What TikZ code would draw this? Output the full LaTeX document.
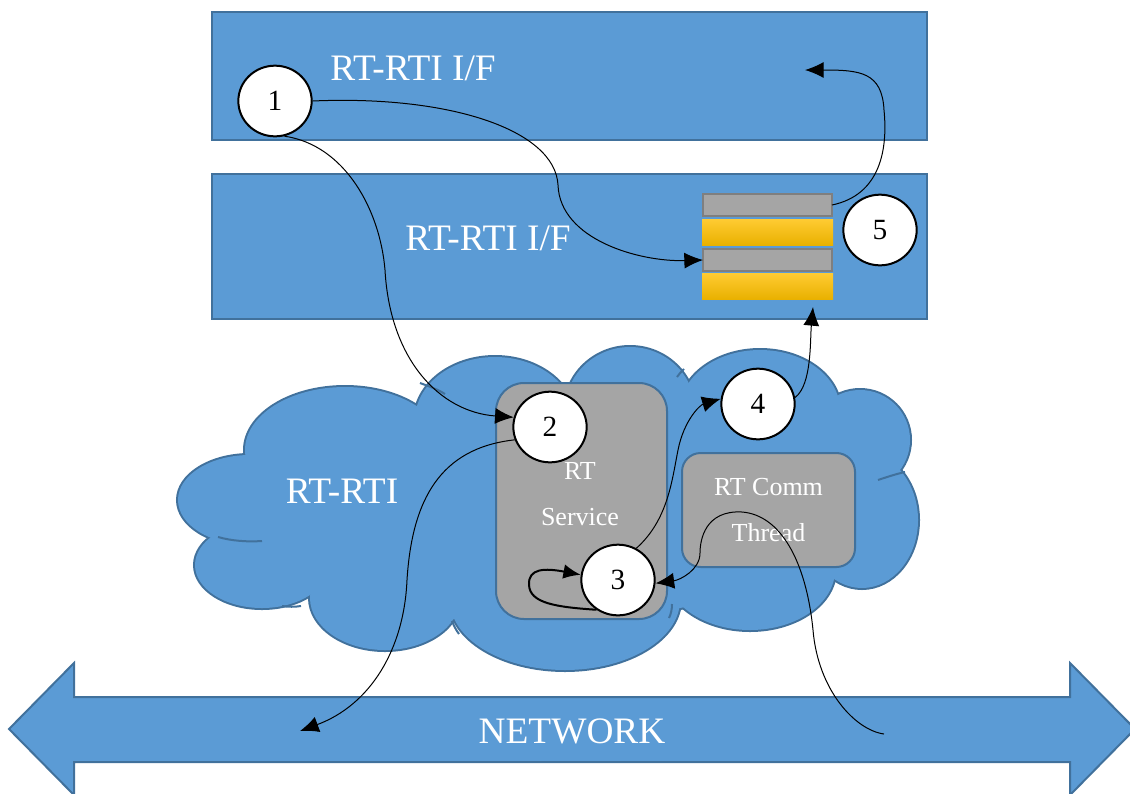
\documentclass[tikz,border=0pt]{standalone}
\usepackage{fontspec}
\setmainfont{Liberation Serif}
\usetikzlibrary{arrows.meta,positioning,shapes.geometric}
\definecolor{boxblue}{HTML}{5B9BD5}
\definecolor{edgeblue}{HTML}{41719C}
\definecolor{svcgray}{HTML}{A5A5A5}
\definecolor{bufgray}{HTML}{7F7F7F}
\definecolor{bufhi}{HTML}{FFCB33}
\definecolor{buflo}{HTML}{E9B100}

\begin{document}
\begin{tikzpicture}[x=0.75pt,y=-0.75pt,
   panel/.style={draw=edgeblue,fill=boxblue,line width=1.5pt,minimum width=536.25pt,inner sep=0pt},
   bigtext/.style={text=white,font=\fontsize{28}{30}\selectfont},
   smalltext/.style={text=white,align=center,font=\fontsize{19.5}{34.5}\selectfont},
   task/.style={draw=edgeblue,fill=svcgray,line width=1.5pt,inner sep=0pt},
   lobeedge/.style={draw=edgeblue,fill=boxblue,line width=3pt},
   lobefill/.style={fill=boxblue},
   cloudline/.style={draw=edgeblue,line width=1.5pt},
   slot/.style={draw=bufgray,fill=svcgray,line width=1.5pt,minimum width=96.75pt,minimum height=16.5pt,inner sep=0pt,outer sep=0pt},
   fillbar/.style={top color=bufhi,bottom color=buflo,minimum width=98.25pt,minimum height=19.5pt,inner sep=0pt,outer sep=0pt},
   num/.style={ellipse,draw=black,fill=white,line width=1.5pt,minimum width=55pt,minimum height=53pt,inner sep=0pt,font=\fontsize{22}{26}\selectfont},
   flow/.style={-{Latex[length=14pt,width=12pt]},line width=0.75pt},
   loopflow/.style={-{Latex[length=13pt,width=11pt]},line width=1.5pt}]
   \useasboundingbox (0,0) rectangle (1130,793);

   % interface panels
   \node[panel,minimum height=96pt] (ifTop) at (569.5,76) {};
   \node[panel,minimum height=108.75pt] (ifMid) at (569.5,246.5) {};
   \node[bigtext] (ifTopLbl) at (413,68) {RT-RTI I/F};
   \node[bigtext] (ifMidLbl) at (488,238) {RT-RTI I/F};

   % cloud
   \foreach \cx/\cy/\rx/\ry in {250/500/72/45, 345/450/100/63, 262/565/67/43, 385/598/75/52,
        565/600/115/70, 750/570/85/60, 862/520/56/68, 860/440/50/50, 760/410/80/60,
        630/410/65/63, 495/420/80/63, 560/505/270/115}
     \path[lobeedge] (\cx,\cy) ellipse [x radius=\rx, y radius=\ry];
   \foreach \cx/\cy/\rx/\ry in {250/500/72/45, 345/450/100/63, 262/565/67/43, 385/598/75/52,
        565/600/115/70, 750/570/85/60, 862/520/56/68, 860/440/50/50, 760/410/80/60,
        630/410/65/63, 495/420/80/63, 560/505/270/115}
     \path[lobefill] (\cx,\cy) ellipse [x radius=\rx, y radius=\ry];
   \draw[cloudline] (218,537) .. controls (232,541) and (248,542) .. (262,541);
   \draw[cloudline] (282,606) .. controls (288,607) and (295,607) .. (301,606);
   \draw[cloudline] (452,621) .. controls (454,626) and (456,630) .. (459,634);
   \draw[cloudline] (420,383) .. controls (428,386) and (437,389) .. (445,394);
   \draw[cloudline] (677,377) .. controls (679,374) and (681,372) .. (684,369);
   \draw[cloudline] (672,604) .. controls (672,609) and (671,614) .. (669,618);
   \draw[cloudline] (878,480) .. controls (887,477) and (896,474) .. (905,472);
   \node[bigtext] (cloudLbl) at (342,491) {RT-RTI};

   % network
   \draw[draw=edgeblue,fill=boxblue,line width=1.5pt] (9,729) -- (74,663) -- (74,697) -- (1070,697)
      -- (1070,663) -- (1135,729) -- (1070,795) -- (1070,762) -- (74,762) -- (74,795) -- cycle;
   \node[bigtext] (netLbl) at (572,731) {NETWORK};

   % tasks
   \node[task,minimum width=128.25pt,minimum height=177pt,rounded corners=21pt] (svc) at (581.5,501) {};
   \node[smalltext] (svcLbl) at (580,494) {RT\\Service};
   \node[task,smalltext,minimum width=129.75pt,minimum height=85.5pt,rounded corners=14pt] (thr) at (768.5,510) {RT Comm\\Thread};

   % buffer
   \node[slot] (g1) at (767.5,205) {};
   \node[fillbar,below=2.25pt of g1] (y1) {};
   \node[slot,below=3pt of y1] (g2) {};
   \node[fillbar,below=1.5pt of g2] (y2) {};

   \node[num] (c1) at (275,101) {1};
   \node[num] (c2) at (550,427) {2};
   \node[num] (c3) at (618,580) {3};
   \node[num] (c4) at (758,404) {4};
   \node[num] (c5) at (880,230) {5};

   \coordinate (topEnd) at (805,70);
   \coordinate (bufEnd) at (813,307);
   \coordinate (netL) at (300,731);
   \coordinate (netR) at (884,734);

   \draw[flow] (c1.east) .. controls (450,95) and (555,130) .. (558,185)
      .. controls (560,240) and (640,262) .. (g2.west);
   \draw[flow] (c1.-75) .. controls (345,145) and (380,210) .. (385,270)
      .. controls (390,360) and (440,412) .. (c2.165);
   \draw[flow] (g1.east) .. controls (880,195) and (888,150) .. (884,110)
      .. controls (882,72) and (860,70) .. (topEnd);
   \draw[flow] (c4.10) .. controls (812,385) and (810,340) .. (bufEnd);
   \draw[flow] (c2.200) .. controls (440,448) and (412,500) .. (407,580)
      .. controls (404,650) and (370,705) .. (netL);
   \draw[flow] (c3.60) .. controls (668,520) and (672,480) .. (678,450)
      .. controls (684,420) and (700,405) .. (c4.172);
   \draw[flow] (netR) .. controls (855,730) and (818,690) .. (813,630)
      .. controls (806,560) and (780,515) .. (742,512)
      .. controls (705,510) and (700,540) .. (700,553)
      .. controls (700,570) and (680,580) .. (c3.-5);
   \draw[loopflow] (c3.234) .. controls (555,607) and (530,603) .. (529,585)
      .. controls (528,568) and (545,568) .. (c3.172);
\end{tikzpicture}
\end{document}
